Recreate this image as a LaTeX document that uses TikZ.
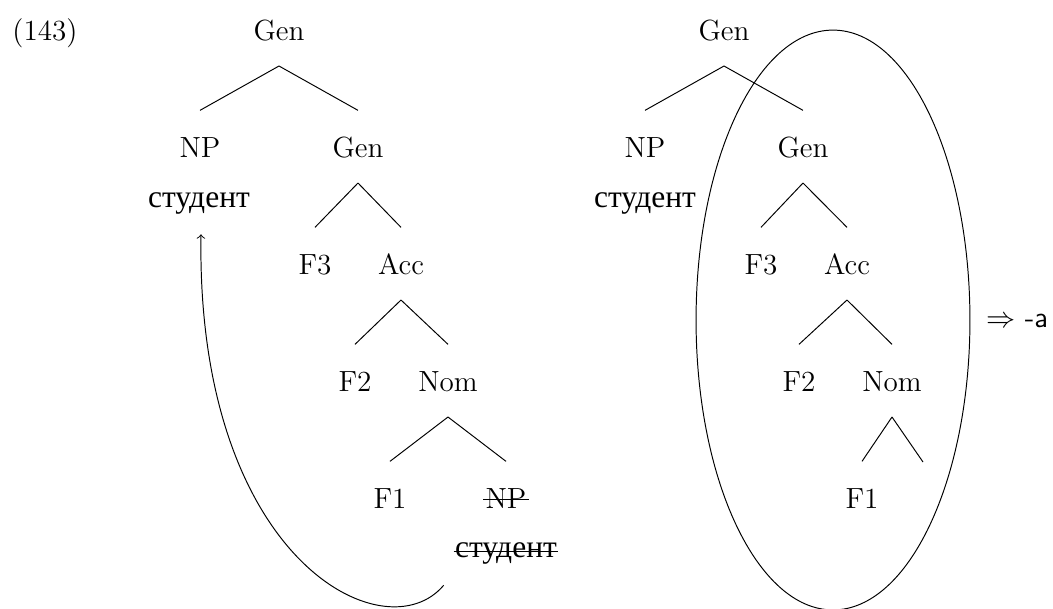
\documentclass[12pt,tikz,border=0pt]{standalone}
\usepackage{fontspec}
\usetikzlibrary{calc,shapes.geometric}
\newfontfamily\cyr[Scale=1.08]{Liberation Serif}

\begin{document}
\begin{tikzpicture}[x=0.4115pt,y=-0.4115pt,
    cat/.style={inner sep=0pt, anchor=base, text height=19pt, text depth=10.5pt},
    word/.style={inner sep=0pt, anchor=base, font=\cyr}]

  \useasboundingbox (0,0) rectangle (1053,608);

  % baselines of the tree levels
  \def\rowOne{40}
  \def\rowTwo{157}
  \def\rowThree{274}
  \def\rowFour{391}
  \def\rowFive{508}

  \node[anchor=base] (exnum) at (45,\rowOne) {(143)};

  % left tree
  \node[cat] (gen)  at (279,\rowOne) {Gen};
  \node[cat] (np)   at (200,\rowTwo) {NP};
  \node[cat] (genB) at (358,\rowTwo) {Gen};
  \node[word] (stu) at (199,207) {студент};
  \node[cat] (F3)   at (315,\rowThree) {F3};
  \node[cat] (acc)  at (401,\rowThree) {Acc};
  \node[cat] (F2)   at (355,\rowFour) {F2};
  \node[cat] (nom)  at (448,\rowFour) {Nom};
  \node[cat] (F1)   at (390,\rowFive) {F1};
  \node[cat] (npB)  at (506,\rowFive) {NP};
  \node[word] (stuB) at (506,557) {студент};

  % lower copy is struck out
  \draw ($(npB.base west)+(-2,-9)$) -- ($(npB.base east)+(2,-9)$);
  \draw ($(stuB.base west)+(-1,-6)$) -- ($(stuB.base east)+(1,-6)$);

  % right tree
  \node[cat] (rGen)  at (724,\rowOne) {Gen};
  \node[cat] (rNP)   at (645,\rowTwo) {NP};
  \node[cat] (rGenB) at (803,\rowTwo) {Gen};
  \node[word] (rStu) at (645,207) {студент};
  \node[cat] (rF3)   at (761,\rowThree) {F3};
  \node[cat] (rAcc)  at (847,\rowThree) {Acc};
  \node[cat] (rF2)   at (799,\rowFour) {F2};
  \node[cat] (rNom)  at (892,\rowFour) {Nom};
  \node[cat] (rF1)   at (862,\rowFive) {F1};
  \coordinate (rGap) at (923,462);

  % branches
  \foreach \p/\c in {gen/np, gen/genB, genB/F3, genB/acc, acc/F2, acc/nom, nom/F1, nom/npB,
                     rGen/rNP, rGen/rGenB, rGenB/rF3, rGenB/rAcc, rAcc/rF2, rAcc/rNom, rNom/rF1}
    {\draw (\p.south) -- (\c.north);}
  \draw (rNom.south) -- (rGap);

  % movement of the NP
  \draw[->] ($(stuB.south west)+(-11,21)$) .. controls (385,655) and (196,560) .. ($(stu.south)+(2,20)$);

  % spell-out domain
  \node[draw, ellipse, inner sep=0pt, minimum width=112.7pt, minimum height=238.6pt] (ring) at (833,320) {};
  \node[anchor=base west] (spell) at (976,327) {$\Rightarrow$ \textsf{-a}};

\end{tikzpicture}
\end{document}
